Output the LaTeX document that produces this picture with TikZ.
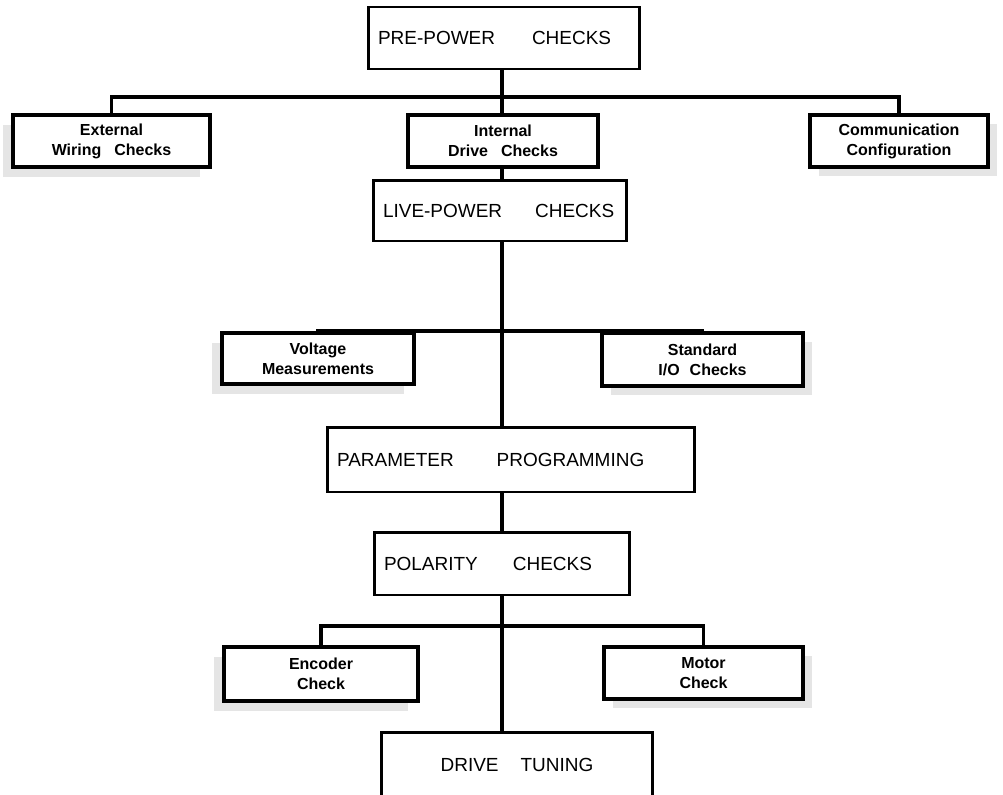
\documentclass[tikz,border=0pt]{standalone}
\usepackage{fontspec}
\setmainfont{Liberation Sans}
\usetikzlibrary{shadows}

\begin{document}
\begin{tikzpicture}[x=0.02cm, y=-0.02cm,
    bigbox/.style={draw, fill=white, line width=1.7pt, inner xsep=0.2cm, align=left, font=\fontsize{10.8}{13}\selectfont},
    smallbox/.style={draw, fill=white, line width=2.2pt, align=center, font=\fontsize{9.1}{11.3}\selectfont\bfseries},
    leftshadow/.style={drop shadow={shadow xshift=-0.2cm, shadow yshift=-0.2cm, fill=black!10, opacity=1}},
    rightshadow/.style={drop shadow={shadow xshift=0.18cm, shadow yshift=-0.18cm, fill=black!10, opacity=1}},
    link/.style={line width=2.2pt}]
    \useasboundingbox (0,0) rectangle (1003,794);
    \clip (0,0) rectangle (1003,794);

    \node[bigbox, text width=5.04cm, minimum height=1.24cm] (pre) at (504,38) {PRE-POWER\hspace{0.74cm}CHECKS};
    \node[smallbox, leftshadow, minimum width=3.94cm, minimum height=1.04cm] (ext) at (111.5,141) {External\\Wiring\hspace{0.26cm}Checks};
    \node[smallbox, minimum width=3.8cm, minimum height=1.04cm] (int) at (503,141) {Internal\\Drive\hspace{0.26cm}Checks};
    \node[smallbox, rightshadow, minimum width=3.56cm, minimum height=1.04cm] (com) at (899,141) {Communication\\Configuration};
    \node[bigbox, text width=4.68cm, minimum height=1.22cm] (live) at (500,210.5) {LIVE-POWER\hspace{0.66cm}CHECKS};
    \node[smallbox, leftshadow, minimum width=3.84cm, minimum height=1.02cm] (volt) at (318,358.5) {Voltage\\Measurements};
    \node[smallbox, rightshadow, minimum width=4.02cm, minimum height=1.06cm] (std) at (702.5,359.5) {Standard\\I/O\hspace{0.2cm}Checks};
    \node[bigbox, text width=6.96cm, minimum height=1.3cm] (param) at (511,459.5) {PARAMETER\hspace{0.86cm}PROGRAMMING};
    \node[bigbox, text width=4.72cm, minimum height=1.26cm] (pol) at (502,563.5) {POLARITY\hspace{0.7cm}CHECKS};
    \node[smallbox, leftshadow, minimum width=3.88cm, minimum height=1.08cm] (enc) at (321,674) {Encoder\\Check};
    \node[smallbox, rightshadow, minimum width=3.98cm, minimum height=1.04cm] (mot) at (703.5,673) {Motor\\Check};
    \node[bigbox, align=center, text width=5.02cm, minimum height=1.32cm] (tune) at (517,765) {DRIVE\hspace{0.44cm}TUNING};

    % branch points on the trunk
    \coordinate (j1) at (502,97);
    \coordinate (j2) at (502,331);
    \coordinate (j3) at (502,626);

    \draw[link] (pre.south -| j1) -- (int.north -| j1);
    \draw[link] (ext.north) |- (j1) -| (com.north);
    \draw[link] (int.south -| j1) -- (live.north -| j1);
    \draw[link] (live.south -| j1) -- (param.north -| j1);
    \draw[link] (volt.north) |- (j2) -| (std.north);
    \draw[link] (param.south -| j1) -- (pol.north -| j1);
    \draw[link] (pol.south -| j1) -- (tune.north -| j1);
    \draw[link] (enc.north) |- (j3) -| (mot.north);
\end{tikzpicture}
\end{document}
